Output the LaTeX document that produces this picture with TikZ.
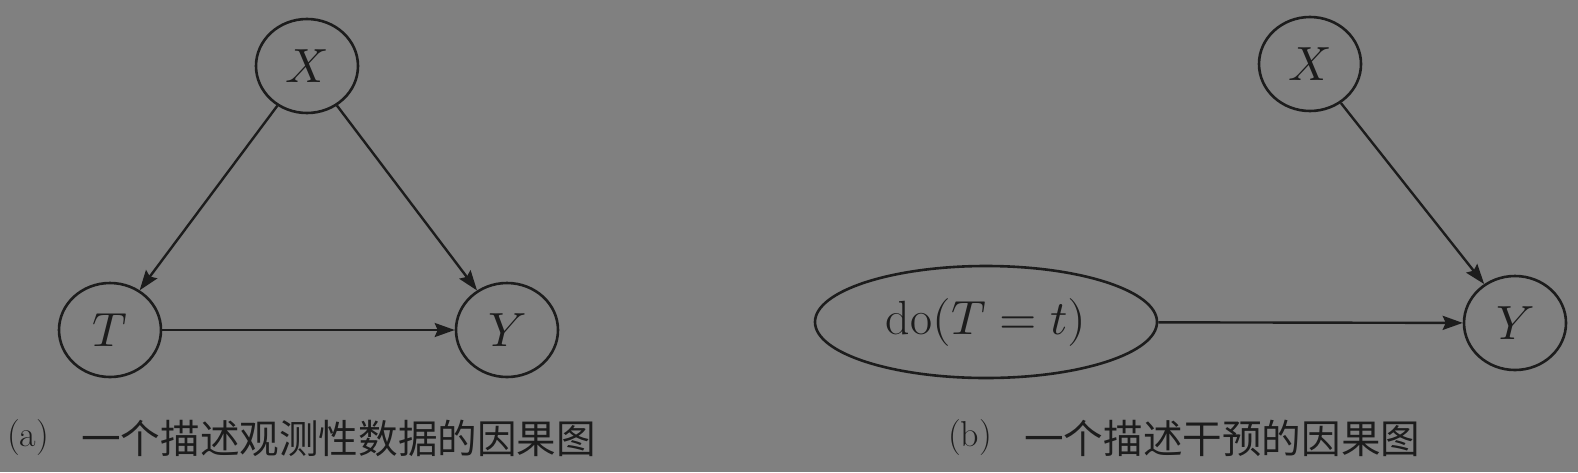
\documentclass[tikz,border=0pt]{standalone}
\usepackage{fontspec}
\usepackage{unicode-math}
\setmathfont{Latin Modern Math}
\newfontfamily\cjk{Noto Sans CJK SC}
\usetikzlibrary{shapes.geometric,arrows.meta}
\definecolor{bg}{RGB}{128,128,128}
\definecolor{ink}{RGB}{28,28,28}
\begin{document}
\begin{tikzpicture}[x=1pt,y=-1pt,
  var/.style={ellipse,draw=ink,line width=2.6pt,inner sep=0pt,minimum width=102pt,minimum height=94pt,text=ink,font=\fontsize{48}{56}\selectfont},
  doop/.style={ellipse,draw=ink,line width=2.6pt,inner sep=0pt,minimum width=342pt,minimum height=112pt,text=ink,font=\fontsize{48}{56}\selectfont},
  arr/.style={draw=ink,line width=2.4pt,-{Stealth[length=20pt,width=14pt,inset=3pt]}},
  lab/.style={anchor=west,inner sep=0pt,text=ink,font=\fontsize{36}{40}\selectfont},
  captext/.style={anchor=west,inner sep=0pt,text=ink,font=\cjk\fontsize{39.6}{44}\selectfont}]
\fill[bg] (0,0) rectangle (1578,472);
\useasboundingbox (0,0) rectangle (1578,472);
% panel (a)
\node[var] (xa) at (307,66) {$X$};
\node[var] (ta) at (110,330) {$T$};
\node[var] (ya) at (507,330) {$Y$};
\draw[arr] (xa) -- (ta);
\draw[arr] (xa) -- (ya);
\draw[arr] (ta) -- (ya);
% panel (b)
\node[var] (xb) at (1310,64) {$X$};
\node[doop] (do) at (986,322) {$\mathrm{do}(T=t)$};
\node[var] (yb) at (1515,323) {$Y$};
\draw[arr] (xb) -- (yb);
\draw[arr] (do) -- (yb);
% captions
\node[lab] (la) at (7,438) {(a)};
\node[captext] (ca) at (81,438) {一个描述观测性数据的因果图};
\node[lab] (lb) at (948,438) {(b)};
\node[captext] (cb) at (1024,438) {一个描述干预的因果图};
\end{tikzpicture}
\end{document}
